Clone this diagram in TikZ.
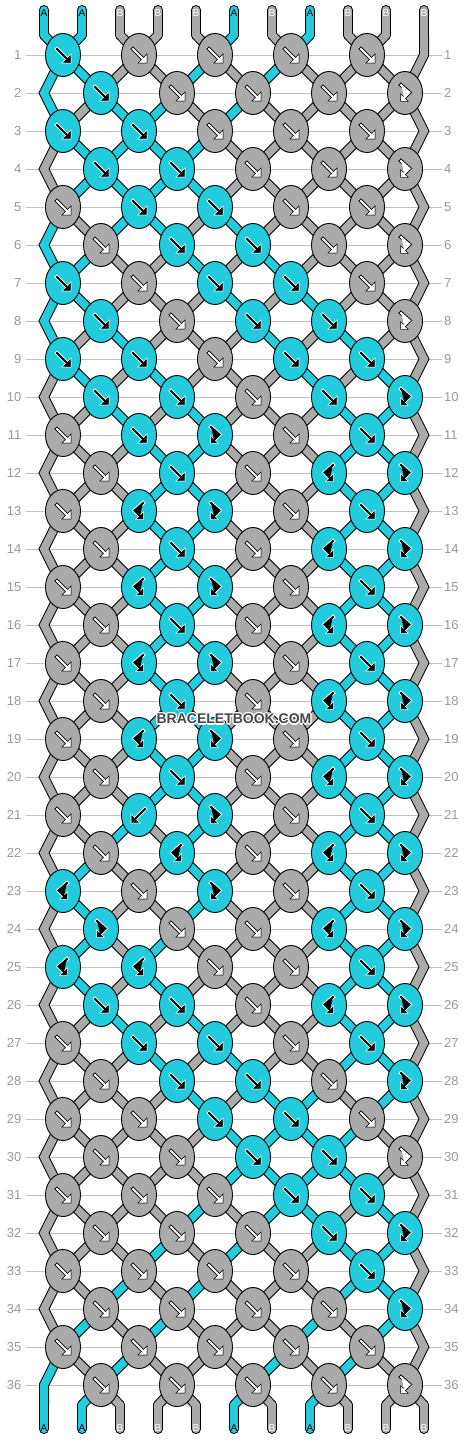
\documentclass[tikz,border=0pt]{standalone}
\usepackage{fontspec}
\setmainfont{Liberation Sans}
\usetikzlibrary{shapes.geometric}
\definecolor{cyanc}{RGB}{34,204,221}
\definecolor{grayc}{RGB}{170,170,170}
\definecolor{gridc}{RGB}{192,192,192}
\definecolor{numc}{RGB}{153,153,153}
\definecolor{wmc}{RGB}{70,70,70}

\def\statelist{0/{A,A,B,B,B,A,B,A,B,B,B},
1/{A,A,B,B,A,B,A,B,B,B,B},
2/{A,B,A,A,B,A,B,B,B,B,B},
3/{B,A,A,A,A,B,B,B,B,B,B},
4/{B,A,A,A,A,B,B,B,B,B,B},
5/{A,B,A,A,B,A,B,B,B,B,B},
6/{A,A,B,B,A,B,A,B,B,B,B},
7/{A,A,B,B,B,A,B,A,B,B,B},
8/{A,B,A,B,B,B,A,B,A,B,B},
9/{B,A,B,A,B,B,B,A,B,A,B},
10/{B,B,A,B,A,B,B,B,A,A,B},
11/{B,B,B,A,A,B,B,B,A,A,B},
12/{B,B,B,A,A,B,B,B,A,A,B},
13/{B,B,B,A,A,B,B,B,A,A,B},
14/{B,B,B,A,A,B,B,B,A,A,B},
15/{B,B,B,A,A,B,B,B,A,A,B},
16/{B,B,B,A,A,B,B,B,A,A,B},
17/{B,B,B,A,A,B,B,B,A,A,B},
18/{B,B,B,A,A,B,B,B,A,A,B},
19/{B,B,B,A,A,B,B,B,A,A,B},
20/{B,B,B,A,A,B,B,B,A,A,B},
21/{B,B,A,B,A,B,B,B,A,A,B},
22/{B,A,B,B,A,B,B,B,A,A,B},
23/{B,A,B,B,A,B,B,B,A,A,B},
24/{B,A,B,A,B,B,B,B,A,A,B},
25/{B,A,B,A,B,B,B,B,A,A,B},
26/{B,B,A,B,A,B,B,B,A,A,B},
27/{B,B,B,A,B,A,B,B,A,A,B},
28/{B,B,B,B,A,B,A,A,B,A,B},
29/{B,B,B,B,B,A,A,A,A,B,B},
30/{B,B,B,B,B,A,A,A,A,B,B},
31/{B,B,B,B,A,B,A,A,B,A,B},
32/{B,B,B,A,B,A,B,B,A,A,B},
33/{B,B,A,B,A,B,B,B,A,A,B},
34/{B,A,B,A,B,B,B,A,B,A,B},
35/{A,B,A,B,B,B,A,B,A,B,B},
36/{A,A,B,B,B,A,B,A,B,B,B}}

\def\knotlist{1/{f/A,f/B,f/B,f/B,f/B},
2/{f/A,f/B,f/B,f/B,x/B},
3/{f/A,f/A,f/B,f/B,f/B},
4/{f/A,f/A,f/B,f/B,x/B},
5/{f/B,f/A,f/A,f/B,f/B},
6/{f/B,f/A,f/A,f/B,x/B},
7/{f/A,f/B,f/A,f/A,f/B},
8/{f/A,f/B,f/A,f/A,x/B},
9/{f/A,f/A,f/B,f/A,f/A},
10/{f/A,f/A,f/B,f/A,x/A},
11/{f/B,f/A,x/A,f/B,f/A},
12/{f/B,f/A,f/B,y/A,x/A},
13/{f/B,y/A,x/A,f/B,f/A},
14/{f/B,f/A,f/B,y/A,x/A},
15/{f/B,y/A,x/A,f/B,f/A},
16/{f/B,f/A,f/B,y/A,x/A},
17/{f/B,y/A,x/A,f/B,f/A},
18/{f/B,f/A,f/B,y/A,x/A},
19/{f/B,y/A,x/A,f/B,f/A},
20/{f/B,f/A,f/B,y/A,x/A},
21/{f/B,b/A,x/A,f/B,f/A},
22/{f/B,y/A,f/B,y/A,x/A},
23/{y/A,f/B,x/A,f/B,f/A},
24/{x/A,f/B,f/B,y/A,x/A},
25/{y/A,y/A,f/B,f/B,f/A},
26/{f/A,f/A,f/B,y/A,x/A},
27/{f/B,f/A,f/A,f/B,f/A},
28/{f/B,f/A,f/A,f/B,x/A},
29/{f/B,f/B,f/A,f/A,f/B},
30/{f/B,f/B,f/A,f/A,x/B},
31/{f/B,f/B,f/B,f/A,f/A},
32/{f/B,f/B,f/B,f/A,x/A},
33/{f/B,f/B,f/B,f/B,f/A},
34/{f/B,f/B,f/B,f/B,x/A},
35/{f/B,f/B,f/B,f/B,f/B},
36/{f/B,f/B,f/B,f/B,x/B}}

\newcommand\glyphshape[3]{%
  \draw[go#1,line width=3.8pt,line cap=rect,line join=miter] #2;
  \filldraw[go#1,line width=1.8pt,line join=miter] #3;
  \draw[gm#1,line width=1.9pt,line cap=rect,line join=miter] #2;
  \fill[gm#1] #3;
}
\newcommand\glyphf[1]{\glyphshape{#1}{(-6,-6) -- (4,4)}{(7.5,7.5) -- (0.5,7.5) -- (7.5,0.5) -- cycle}}
\newcommand\glyphb[1]{\begin{scope}[xscale=-1]\glyphf{#1}\end{scope}}
\newcommand\glyphx[1]{\glyphshape{#1}{(-4,-8) -- (4.5,-0.5) -- (-1,5)}{(-3.8,7.8) -- (-3.8,2.3) -- (1.7,7.8) -- cycle}}
\newcommand\glyphy[1]{\begin{scope}[xscale=-1]\glyphx{#1}\end{scope}}

\newcommand\stringpass[1]{%
  \foreach \cl [count=\p] in {A,A,B,B,B,A,B,A,B,B,B} {\draw[s#1\cl] (t-\p) -- (c-0-\p);}
  \foreach \cl [count=\p] in {A,A,B,B,B,A,B,A,B,B,B} {\draw[s#1\cl] (c-37-\p) -- (b-\p);}
  \foreach \r/\st in \statelist {
    \pgfmathtruncatemacro\rn{\r+1}
    \pgfmathtruncatemacro\rnn{\r+2}
    \foreach \cl [count=\p] in \st {
      \def\cur{0}%
      \ifnum\r>0
        \ifodd\r\relax \ifnum\p=11 \def\cur{1}\fi \else \ifnum\p=1 \def\cur{1}\fi \fi
      \fi
      \def\nxt{0}%
      \ifnum\rn<37
        \ifodd\rn\relax \ifnum\p=11 \def\nxt{1}\fi \else \ifnum\p=1 \def\nxt{1}\fi \fi
      \fi
      \ifnum\cur=0
        \ifnum\nxt=1
          \draw[s#1\cl] (c-\r-\p) -- (c-\rn-\p) -- (c-\rnn-\p);
        \else
          \draw[s#1\cl] (c-\r-\p) -- (c-\rn-\p);
        \fi
      \fi
    }
  }
}

\begin{document}
\begin{tikzpicture}[x=1pt,y=-1pt,
  sOA/.style={draw=black,line width=10pt,line cap=round,line join=miter},
  sOB/.style={sOA},
  sFA/.style={draw=cyanc,line width=8pt,line cap=round,line join=miter},
  sFB/.style={draw=grayc,line width=8pt,line cap=round,line join=miter},
  knotA/.style={ellipse,draw=black,line width=0.9pt,fill=cyanc,minimum width=35pt,minimum height=43pt,inner sep=0pt},
  knotB/.style={knotA,fill=grayc},
  goA/.style={draw=white,fill=white},
  gmA/.style={draw=black,fill=black},
  goB/.style={draw=black,fill=black},
  gmB/.style={draw=white,fill=white},
  gridline/.style={draw=gridc,line width=1pt},
  rownum/.style={text=numc,font=\fontsize{13}{13}\selectfont,inner sep=0pt},
  endlabA/.style={text=black,font=\fontsize{10}{10}\selectfont,inner sep=0pt},
  endlabB/.style={text=white,font=\fontsize{10}{10}\selectfont,inner sep=0pt},
  wmhalo/.style={text=white,font=\fontsize{14}{14}\selectfont\bfseries,inner sep=0pt},
  wmtext/.style={text=wmc,font=\fontsize{14}{14}\selectfont\bfseries,inner sep=0pt}
]
\fill[white] (0,0) rectangle (468,1440);
\useasboundingbox (0,0) rectangle (468,1440);

% coordinates
\foreach \p in {1,...,11}{
  \pgfmathsetmacro\xs{44+38*(\p-1)}
  \coordinate (t-\p) at (\xs,10);
  \coordinate (c-0-\p) at (\xs,35);
  \coordinate (c-37-\p) at (\xs,1405);
  \coordinate (b-\p) at (\xs,1429);
}
\foreach \r in {1,...,36}{
  \foreach \p in {1,...,11}{
    \pgfmathsetmacro\yy{55+38*(\r-1)}
    \pgfmathtruncatemacro\rodd{mod(\r,2)}
    \pgfmathtruncatemacro\ppar{mod(\p,2)}
    \ifnum\rodd=1
      \ifnum\p=11 \def\xx{424}\else \pgfmathsetmacro\xx{63+38*(\p-1+\ppar-1)}\fi
    \else
      \ifnum\p=1 \def\xx{44}\else \pgfmathsetmacro\xx{63+38*(\p-\ppar-1)}\fi
    \fi
    \coordinate (c-\r-\p) at (\xx,\yy);
  }
}

% grid lines and row numbers
\foreach \r in {1,...,36}{
  \pgfmathsetmacro\yy{55+38*(\r-1)}
  \draw[gridline] (26,\yy) -- (442,\yy);
  \node[rownum,anchor=east] (nl-\r) at (21.5,\yy) {\r};
  \node[rownum,anchor=west] (nr-\r) at (444,\yy) {\r};
}

% strings
\stringpass{O}
\stringpass{F}

% knots
\foreach \r/\kl in \knotlist {
  \foreach \tp/\cl [count=\k] in \kl {
    \ifodd\r\relax \pgfmathtruncatemacro\pp{2*\k-1}\else \pgfmathtruncatemacro\pp{2*\k}\fi
    \node[knot\cl] (k-\r-\k) at (c-\r-\pp) {};
    \begin{scope}[shift={(k-\r-\k.center)}]
      \csname glyph\tp\endcsname{\cl}
    \end{scope}
  }
}

% end labels
\foreach \cl [count=\p] in {A,A,B,B,B,A,B,A,B,B,B} {
  \pgfmathsetmacro\xs{44+38*(\p-1)}
  \node[endlab\cl] (lt-\p) at (\xs,13) {\cl};
  \node[endlab\cl] (lb-\p) at (\xs,1428) {\cl};
}

% watermark
\foreach \dx/\dy [count=\i] in {-1.2/0,1.2/0,0/-1.2,0/1.2,-0.9/-0.9,0.9/-0.9,-0.9/0.9,0.9/0.9}{
  \node[wmhalo] (wmh-\i) at (234+\dx,719+\dy) {BRACELETBOOK.COM};
}
\node[wmtext] (wm) at (234,719) {BRACELETBOOK.COM};
\end{tikzpicture}
\end{document}
